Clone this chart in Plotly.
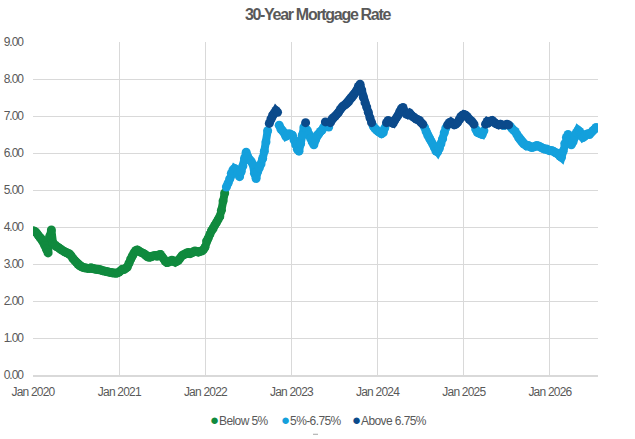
import pandas as pd
import plotly.graph_objects as go

# weekly 30-year mortgage rate (%)
rates_2020 = [3.90, 3.88, 3.84, 3.78, 3.72, 3.68, 3.62, 3.50, 3.40, 3.30,
              3.75, 3.92, 3.56, 3.52, 3.47, 3.45, 3.42, 3.38, 3.36, 3.33,
              3.31, 3.29, 3.27, 3.22, 3.15, 3.10, 3.05, 3.00, 2.96, 2.93,
              2.91, 2.90, 2.89, 2.88, 2.88, 2.90, 2.88, 2.87, 2.86, 2.86,
              2.85, 2.84, 2.82, 2.81, 2.80, 2.79, 2.78, 2.77, 2.76, 2.76,
              2.75, 2.76]
rates_2021 = [2.78, 2.82, 2.86, 2.85, 2.88, 2.92, 3.02, 3.13, 3.22, 3.30,
              3.36, 3.38, 3.35, 3.32, 3.30, 3.28, 3.24, 3.20, 3.18, 3.19,
              3.21, 3.22, 3.23, 3.21, 3.24, 3.26, 3.20, 3.14, 3.07, 3.04,
              3.05, 3.08, 3.10, 3.08, 3.05, 3.07, 3.10, 3.16, 3.22, 3.25,
              3.27, 3.30, 3.31, 3.28, 3.30, 3.33, 3.35, 3.34, 3.32, 3.34,
              3.35, 3.38]
rates_2022 = [3.45, 3.62, 3.70, 3.80, 3.90, 3.96, 4.05, 4.12, 4.20, 4.28,
              4.45, 4.70, 4.92, 5.08, 5.18, 5.30, 5.45, 5.54, 5.58, 5.55,
              5.45, 5.36, 5.50, 5.65, 5.85, 6.02, 5.90, 5.82, 5.78, 5.70,
              5.45, 5.31, 5.50, 5.60, 5.70, 5.85, 6.05, 6.30, 6.60, 6.80,
              6.92, 7.02, 7.08, 7.15, 7.10, 6.75, 6.65, 6.60, 6.55, 6.45,
              6.48, 6.52]
rates_2023 = [6.50, 6.48, 6.35, 6.22, 6.10, 6.05, 6.25, 6.48, 6.70, 6.82,
              6.62, 6.50, 6.40, 6.30, 6.22, 6.35, 6.48, 6.52, 6.58, 6.62,
              6.70, 6.84, 6.72, 6.70, 6.82, 6.92, 6.96, 7.00, 7.05, 7.10,
              7.18, 7.24, 7.28, 7.30, 7.34, 7.38, 7.45, 7.50, 7.56, 7.62,
              7.70, 7.80, 7.86, 7.70, 7.50, 7.36, 7.24, 7.10, 6.95, 6.82,
              6.72, 6.66]
rates_2024 = [6.62, 6.58, 6.55, 6.52, 6.55, 6.68, 6.82, 6.88, 6.85, 6.82,
              6.80, 6.88, 6.95, 7.02, 7.12, 7.20, 7.23, 7.12, 7.05, 7.04,
              7.08, 7.02, 6.98, 6.95, 6.92, 6.90, 6.88, 6.82, 6.78, 6.70,
              6.58, 6.48, 6.40, 6.32, 6.24, 6.15, 6.05, 6.03, 6.12, 6.25,
              6.38, 6.55, 6.68, 6.76, 6.82, 6.84, 6.80, 6.76, 6.78, 6.82,
              6.90, 6.98]
rates_2025 = [7.02, 7.04, 7.02, 6.98, 6.92, 6.88, 6.84, 6.78, 6.65, 6.56,
              6.54, 6.52, 6.50, 6.60, 6.78, 6.85, 6.82, 6.86, 6.88, 6.84,
              6.80, 6.78, 6.76, 6.78, 6.76, 6.74, 6.76, 6.78, 6.76, 6.72,
              6.66, 6.62, 6.58, 6.50, 6.42, 6.36, 6.30, 6.25, 6.22, 6.19,
              6.20, 6.17, 6.15, 6.16, 6.18, 6.20, 6.19, 6.17, 6.14, 6.12,
              6.10, 6.11]
rates_2026 = [6.08, 6.06, 6.07, 6.05, 6.02, 6.00, 5.98, 5.92, 5.88, 6.05,
              6.25, 6.42, 6.50, 6.35, 6.22, 6.30, 6.42, 6.55, 6.62, 6.58,
              6.50, 6.42, 6.45, 6.50, 6.52, 6.50, 6.55, 6.60, 6.64, 6.69]

x_tick_dates  = ['2020-01-01', '2021-01-01', '2022-01-01', '2023-01-01',
                 '2024-01-01', '2025-01-01', '2026-01-01']
x_tick_labels = ['Jan 2020', 'Jan 2021', 'Jan 2022', 'Jan 2023',
                 'Jan 2024', 'Jan 2025', 'Jan 2026']
y_tick_vals   = [0, 1, 2, 3, 4, 5, 6, 7, 8, 9]
y_tick_labels = ['0.00', '1.00', '2.00', '3.00', '4.00',
                 '5.00', '6.00', '7.00', '8.00', '9.00']

rates = rates_2020 + rates_2021 + rates_2022 + rates_2023 + rates_2024 + rates_2025 + rates_2026
weeks = pd.date_range('2020-01-02', periods=len(rates), freq='7D')

BANDS = ['Below 5%', '5%-6.75%', 'Above 6.75%']
BAND_COLORS = {'Below 5%': '#108a3e', '5%-6.75%': '#14a0dc', 'Above 6.75%': '#0b4a8b'}

FONT = 'Liberation Sans, Arial, sans-serif'
GRAY = '#595959'
GRID = '#d9d9d9'

def narrow(s, ls=-0.8):
  # the original uses a condensed face; squeeze the letter spacing instead
  return f'<span style="letter-spacing:{ls}px">{s}</span>'

df = pd.DataFrame({'date': weeks, 'rate': rates})
df['band'] = BANDS[1]
df.loc[df.rate < 5, 'band'] = BANDS[0]
df.loc[df.rate > 6.75, 'band'] = BANDS[2]

fig = go.Figure()
for b in BANDS:
  y = df.rate.where(df.band == b)   # gaps where another band takes over
  fig.add_trace(go.Scatter(
    x=df.date, y=y, mode='lines+markers', name=b,
    line=dict(width=8, color=BAND_COLORS[b]),
    marker=dict(size=9, color=BAND_COLORS[b]),
    connectgaps=False, showlegend=False,
  ))

# legend drawn as text so the dot sits right next to its label, like the original
legend_x = [208, 279, 350]
for b, px_ in zip(BANDS, legend_x):
  fig.add_annotation(
    x=(px_ - 33) / 565, y=-0.133, xref='paper', yref='paper',
    xanchor='left', yanchor='middle', showarrow=False,
    text=f'<span style="color:{BAND_COLORS[b]};font-size:15px">●</span>' + narrow(b, -0.6),
    font=dict(family=FONT, size=12, color=GRAY),
  )

fig.add_shape(type='line', xref='paper', yref='paper',
  x0=(313 - 33) / 565, x1=(318 - 33) / 565, y0=-0.178, y1=-0.178,
  line=dict(color='#a6a6a6', width=1))

fig.update_layout(
  width=635, height=439,
  margin=dict(l=33, r=37, t=42, b=64),
  paper_bgcolor='white', plot_bgcolor='white',
  title=dict(text='<b>' + narrow('30-Year Mortgage Rate', -1.3) + '</b>',
             x=0.5, xanchor='center', y=0.968, yanchor='middle',
             font=dict(family=FONT, size=16, color=GRAY)),
  font=dict(family=FONT, size=12, color=GRAY),
)
fig.update_xaxes(
  type='date', range=['2020-01-01', '2026-07-24'],
  tickvals=x_tick_dates, ticktext=[narrow(t) for t in x_tick_labels],
  showgrid=True, gridcolor=GRID, gridwidth=1,
  showline=True, linecolor=GRID, linewidth=1.5,
  ticks='', ticklabelstandoff=5, zeroline=False, automargin=False,
  tickfont=dict(family=FONT, size=12, color=GRAY),
)
fig.update_yaxes(
  range=[0, 9], tickvals=y_tick_vals, ticktext=[narrow(t, -1.0) for t in y_tick_labels],
  showgrid=True, gridcolor=GRID, gridwidth=1,
  zeroline=False, showline=False, ticks='', ticklabelstandoff=9, automargin=False,
  tickfont=dict(family=FONT, size=12, color=GRAY),
)

# page body has an 8px default margin; drop it so the figure sits at the window corner
fig.write_html('out.html', config={'displayModeBar': False},
               post_script="document.body.style.margin='0px';")
